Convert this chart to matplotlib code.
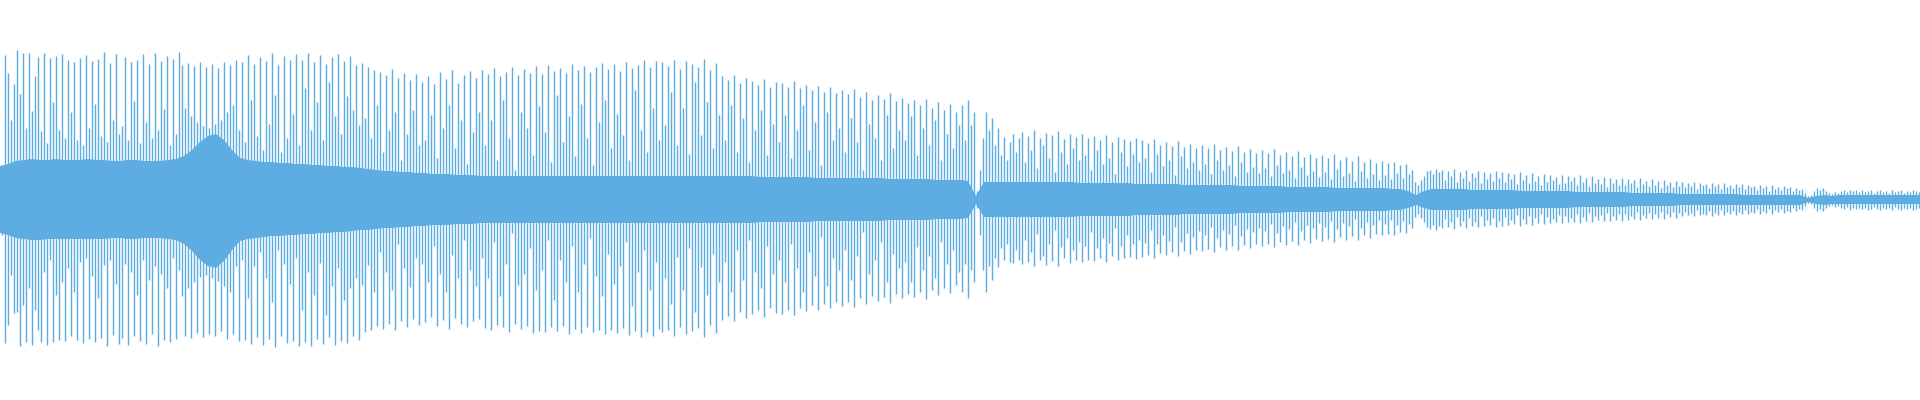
import numpy as np
import matplotlib
matplotlib.use("Agg")
import matplotlib.pyplot as plt

# Waveform peaks (px above / below the centre line), one per spike, left to right
peak_top = [
    35, 145, 127, 80, 116, 150, 106, 147, 72, 147, 89, 124, 143, 69, 147, 57, 142, 98, 144, 70,
    146, 62, 140, 88, 138, 60, 142, 55, 145, 72, 139, 96, 141, 64, 148, 58, 137, 80, 146, 66,
    74, 143, 60, 138, 99, 140, 57, 146, 78, 136, 62, 147, 70, 139, 91, 144, 55, 141, 66, 148,
    135, 92, 137, 84, 134, 78, 138, 74, 133, 72, 136, 76, 132, 80, 138, 88, 135, 95, 140, 70,
    138, 58, 145, 100, 136, 64, 143, 50, 139, 76, 147, 105, 135, 48, 144, 62, 140, 86, 146, 55,
    140, 112, 147, 70, 138, 98, 145, 60, 136, 118, 143, 84, 146, 66, 139, 104, 144, 90, 135, 75,
    137, 82, 133, 62, 130, 95, 128, 48, 125, 70, 131, 88, 122, 40, 127, 66, 120, 90, 126, 55,
    118, 60, 124, 85, 116, 42, 128, 72, 121, 95, 130, 52, 117, 80, 125, 36, 129, 68, 122, 88,
    130, 55, 126, 80, 132, 40, 124, 100, 128, 62, 133, 30, 125, 88, 131, 72, 127, 45, 134, 94,
    126, 68, 135, 38, 129, 105, 132, 58, 127, 84, 136, 44, 130, 96, 134, 62, 128, 35, 133, 78,
    137, 100, 131, 52, 136, 86, 129, 65, 138, 40, 132, 110, 135, 70, 140, 48, 133, 92, 139, 60,
    138, 75, 134, 108, 140, 55, 131, 92, 139, 46, 136, 118, 133, 65, 141, 98, 130, 52, 137, 85,
    124, 60, 120, 95, 125, 48, 117, 82, 122, 38, 119, 70, 115, 90, 121, 45, 113, 76, 118, 58,
    117, 85, 113, 42, 119, 70, 112, 95, 115, 50, 110, 78, 114, 35, 108, 88, 113, 60, 107, 72,
    110, 48, 106, 82, 111, 58, 103, 30, 108, 76, 100, 62, 105, 40, 101, 85, 107, 52, 99, 70,
    102, 60, 97, 84, 100, 45, 95, 72, 101, 55, 92, 80, 98, 40, 90, 66, 96, 52, 88, 75,
    95, 60, 100, 75, 88, 9, 30, 62, 88, 70, 82, 55, 72, 45, 63, 40, 58, 66, 48, 62,
    68, 38, 64, 50, 70, 32, 62, 55, 67, 42, 65, 28, 69, 48, 61, 36, 66, 52, 63, 40,
    66, 45, 62, 30, 64, 50, 60, 36, 65, 42, 58, 26, 63, 48, 61, 34, 59, 46, 62, 38,
    60, 42, 57, 28, 61, 46, 55, 34, 58, 40, 54, 25, 59, 44, 53, 32, 56, 38, 52, 30,
    55, 36, 52, 26, 56, 40, 50, 30, 53, 35, 49, 24, 54, 38, 48, 28, 51, 33, 47, 27,
    50, 32, 47, 24, 51, 35, 45, 27, 48, 30, 44, 22, 49, 33, 43, 25, 46, 29, 42, 23,
    45, 28, 42, 21, 46, 31, 40, 24, 43, 27, 39, 19, 44, 29, 38, 22, 41, 26, 37, 20,
    39, 25, 37, 21, 38, 27, 35, 22, 36, 26, 30, 18, 15, 20, 24, 29, 30, 26, 31, 28,
    30, 20, 29, 24, 31, 18, 28, 22, 30, 19, 27, 23, 29, 17, 28, 21, 27, 19, 29, 22,
    28, 18, 27, 21, 26, 16, 28, 20, 25, 17, 27, 19, 24, 15, 26, 18, 25, 20, 23, 16,
    25, 17, 24, 19, 23, 15, 25, 18, 22, 14, 24, 17, 21, 16, 23, 13, 22, 17, 21, 15,
    22, 15, 21, 17, 20, 13, 22, 16, 19, 14, 21, 15, 19, 12, 20, 15, 18, 13, 19, 14,
    18, 13, 17, 14, 18, 11, 17, 15, 16, 12, 17, 14, 16, 11, 17, 13, 15, 12, 16, 13,
    16, 11, 15, 13, 14, 10, 15, 12, 14, 9, 15, 11, 13, 10, 14, 12, 13, 9, 12, 10,
    11, 7, 4, 5, 9, 12, 10, 12, 9, 7, 6, 8, 7, 9, 10, 8, 10, 9, 10, 8,
    10, 8, 9, 10, 7, 9, 10, 8, 9, 7, 10, 8, 9, 10, 7, 9, 8, 10, 9, 8,
]

peak_bottom = [
    35, 143, 125, 75, 113, 112, 146, 105, 142, 88, 145, 110, 130, 142, 72, 145, 60, 142, 95, 140,
    82, 141, 68, 136, 92, 140, 62, 143, 58, 139, 76, 142, 98, 138, 65, 146, 60, 135, 84, 144,
    138, 64, 145, 72, 136, 95, 141, 60, 144, 80, 134, 66, 146, 74, 140, 88, 142, 58, 139, 70,
    96, 136, 88, 138, 82, 133, 77, 137, 75, 134, 78, 136, 81, 131, 86, 139, 92, 134, 66, 141,
    60, 140, 98, 144, 66, 137, 52, 145, 78, 139, 102, 147, 50, 136, 64, 143, 84, 141, 58, 146,
    110, 142, 72, 146, 95, 139, 63, 144, 115, 137, 86, 145, 68, 141, 100, 143, 88, 136, 78, 140,
    85, 132, 65, 130, 92, 126, 52, 129, 72, 124, 90, 130, 44, 121, 68, 127, 87, 119, 58, 125,
    64, 122, 82, 117, 46, 126, 74, 120, 92, 129, 55, 118, 78, 124, 40, 127, 70, 121, 86, 119,
    58, 128, 78, 130, 42, 125, 96, 127, 64, 132, 33, 124, 85, 129, 74, 126, 48, 133, 90, 131,
    70, 132, 40, 127, 100, 131, 60, 126, 82, 134, 46, 129, 92, 133, 64, 127, 38, 132, 76, 130,
    96, 134, 54, 130, 84, 133, 66, 128, 42, 135, 106, 131, 72, 137, 50, 132, 90, 136, 62, 129,
    132, 78, 130, 104, 136, 57, 127, 90, 134, 48, 131, 112, 128, 67, 137, 95, 125, 54, 133, 82,
    120, 62, 116, 92, 121, 50, 112, 80, 118, 40, 114, 72, 110, 88, 117, 46, 108, 74, 113, 60,
    114, 82, 110, 44, 115, 68, 108, 92, 111, 52, 105, 76, 110, 37, 104, 86, 108, 58, 102, 70,
    106, 50, 102, 80, 107, 56, 98, 32, 104, 74, 96, 60, 101, 42, 97, 82, 103, 54, 94, 68,
    98, 62, 94, 82, 97, 47, 92, 70, 99, 56, 90, 78, 95, 42, 88, 64, 93, 50, 85, 72,
    92, 64, 98, 70, 82, 8, 35, 70, 92, 66, 80, 58, 67, 48, 60, 44, 62, 63, 50, 60,
    64, 40, 62, 52, 66, 34, 60, 56, 65, 44, 61, 30, 66, 47, 58, 38, 63, 50, 60, 42,
    62, 46, 60, 32, 61, 48, 58, 38, 62, 43, 56, 28, 60, 46, 58, 35, 57, 44, 59, 40,
    57, 43, 55, 30, 58, 44, 53, 35, 55, 41, 52, 27, 56, 42, 51, 33, 54, 37, 50, 31,
    51, 35, 49, 27, 52, 38, 47, 30, 50, 34, 46, 25, 50, 36, 45, 29, 48, 32, 44, 28,
    46, 31, 44, 24, 47, 33, 42, 26, 45, 29, 41, 22, 45, 31, 40, 25, 43, 28, 39, 23,
    41, 27, 39, 21, 42, 29, 37, 23, 40, 26, 36, 19, 40, 28, 35, 22, 38, 25, 34, 20,
    35, 24, 34, 20, 35, 25, 32, 21, 33, 24, 28, 17, 14, 18, 22, 27, 29, 25, 30, 26,
    28, 19, 27, 22, 29, 17, 26, 21, 28, 18, 26, 22, 27, 16, 26, 20, 25, 18, 27, 21,
    26, 17, 25, 20, 24, 15, 26, 19, 24, 16, 25, 18, 23, 14, 24, 17, 23, 19, 22, 15,
    23, 16, 22, 18, 22, 14, 23, 17, 21, 13, 22, 16, 20, 15, 21, 13, 21, 16, 20, 14,
    21, 14, 20, 16, 19, 12, 20, 15, 18, 13, 19, 14, 18, 12, 19, 14, 17, 12, 18, 13,
    16, 12, 15, 13, 16, 10, 15, 14, 15, 11, 16, 13, 15, 10, 15, 12, 14, 11, 15, 12,
    14, 10, 14, 12, 13, 9, 14, 11, 13, 9, 14, 10, 12, 9, 13, 11, 12, 8, 11, 9,
    10, 6, 3, 4, 8, 11, 9, 11, 8, 6, 5, 7, 6, 8, 9, 7, 10, 8, 9, 8,
    9, 8, 10, 9, 7, 9, 10, 8, 9, 8, 10, 7, 9, 10, 8, 9, 8, 10, 9, 8,
]

# Dense core of the waveform (px above / below centre), sampled evenly left to right
core_top = [
    34, 36, 39, 40, 41, 40, 40, 41, 40, 40,
    40, 41, 40, 40, 39, 39, 40, 40, 39, 39,
    39, 40, 41, 44, 50, 58, 64, 66, 60, 50,
    42, 40, 39, 38, 38, 37, 37, 36, 36, 35,
    35, 34, 34, 33, 33, 32, 31, 30, 29, 29,
    28, 28, 27, 27, 26, 26, 26, 25, 25, 25,
    24, 24, 24, 24, 24, 24, 24, 24, 24, 24,
    24, 24, 24, 24, 24, 24, 24, 24, 24, 24,
    24, 24, 24, 24, 24, 24, 24, 24, 24, 24,
    24, 24, 24, 24, 24, 23, 23, 23, 23, 23,
    23, 23, 22, 22, 22, 22, 22, 22, 22, 22,
    22, 21, 21, 21, 21, 21, 21, 20, 20, 20,
    20, 19, 4, 18, 18, 18, 18, 18, 18, 18,
    18, 18, 18, 18, 18, 17, 17, 17, 17, 17,
    17, 17, 16, 16, 16, 16, 16, 16, 15, 15,
    15, 15, 15, 15, 15, 14, 14, 14, 14, 14,
    14, 13, 13, 13, 13, 13, 13, 12, 12, 12,
    12, 12, 12, 12, 11, 11, 9, 5, 9, 11,
    11, 11, 11, 11, 10, 10, 10, 10, 10, 10,
    9, 9, 9, 9, 9, 9, 9, 8, 8, 8,
    8, 8, 8, 8, 7, 7, 7, 7, 7, 7,
    6, 6, 6, 6, 6, 6, 6, 6, 5, 5,
    5, 5, 5, 5, 5, 5, 2, 4, 5, 4,
    5, 5, 5, 5, 5, 5, 5, 5, 5, 5,
    5,
]
core_bottom = [
    33, 35, 38, 39, 40, 40, 39, 39, 39, 39,
    39, 39, 39, 39, 38, 38, 39, 39, 38, 38,
    38, 39, 40, 44, 51, 60, 66, 68, 61, 50,
    41, 39, 38, 37, 36, 36, 35, 35, 34, 34,
    33, 33, 32, 32, 31, 30, 30, 29, 28, 28,
    27, 27, 26, 26, 25, 25, 25, 24, 24, 24,
    23, 23, 23, 23, 23, 23, 23, 23, 23, 23,
    23, 23, 23, 23, 23, 23, 23, 23, 23, 23,
    23, 23, 23, 23, 23, 23, 23, 23, 23, 23,
    23, 23, 23, 23, 23, 22, 22, 22, 22, 22,
    22, 22, 21, 21, 21, 21, 21, 21, 21, 21,
    21, 20, 20, 20, 20, 20, 20, 19, 19, 19,
    19, 18, 4, 17, 17, 17, 17, 17, 17, 17,
    17, 17, 17, 17, 17, 16, 16, 16, 16, 16,
    16, 16, 15, 15, 15, 15, 15, 15, 14, 14,
    14, 14, 14, 14, 14, 13, 13, 13, 13, 13,
    13, 12, 12, 12, 12, 12, 12, 11, 11, 11,
    11, 11, 11, 11, 10, 10, 8, 5, 8, 10,
    10, 10, 10, 10, 9, 9, 9, 9, 9, 9,
    8, 8, 8, 8, 8, 8, 8, 7, 7, 7,
    7, 7, 7, 7, 6, 6, 6, 6, 6, 6,
    5, 5, 5, 5, 5, 5, 5, 5, 5, 5,
    5, 5, 5, 5, 5, 5, 2, 4, 5, 4,
    4, 4, 4, 4, 4, 4, 4, 4, 4, 4,
    4,
]

COLOR = "#5DADE2"
W, H = 1920, 400

fig = plt.figure(figsize=(W / 100, H / 100), dpi=100)
ax = fig.add_axes([0, 0, 1, 1])
ax.set_xlim(0, W)
ax.set_ylim(-H / 2, H / 2)
ax.axis("off")

top = np.array(peak_top, dtype=float)
bot = np.array(peak_bottom, dtype=float)
n = len(top)
pitch = W / n
xs = (np.arange(n) + 0.5) * pitch

ct = np.array(core_top, dtype=float)
cb = np.array(core_bottom, dtype=float)
cx = np.linspace(0, W, len(ct))
ax.fill_between(cx, -cb, ct, color=COLOR, linewidth=0)

ax.vlines(xs, -bot, top, colors=COLOR, linewidth=0.72 * 1.4, antialiased=True)

fig.savefig("out.png", dpi=100)
